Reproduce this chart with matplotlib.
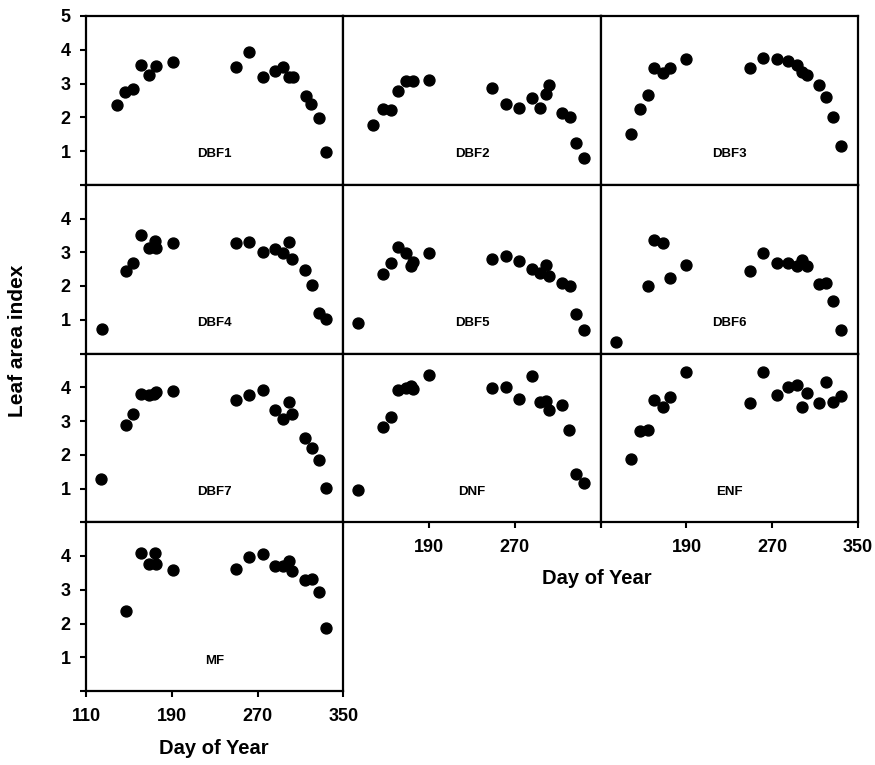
import matplotlib
matplotlib.use("Agg")
import matplotlib.pyplot as plt

plt.rcParams['font.family'] = ['Liberation Sans', 'DejaVu Sans']

# leaf area index by day of year, one list pair per forest type
dbf1_day = [139, 146, 154, 161, 169, 175, 191, 250, 262, 275, 286, 294, 299, 303, 315, 320, 327, 334]
dbf1_lai = [2.35, 2.76, 2.84, 3.54, 3.25, 3.53, 3.63, 3.50, 3.94, 3.19, 3.37, 3.49, 3.20, 3.20, 2.64, 2.38, 1.98, 0.96]

dbf2_day = [138, 147, 154, 161, 168, 175, 190, 249, 262, 274, 286, 293, 299, 302, 314, 321, 327, 334]
dbf2_lai = [1.76, 2.23, 2.21, 2.77, 3.06, 3.08, 3.09, 2.86, 2.38, 2.28, 2.56, 2.27, 2.69, 2.96, 2.12, 2.00, 1.24, 0.79]

dbf3_day = [138, 147, 154, 160, 168, 175, 190, 249, 261, 274, 285, 293, 298, 302, 314, 320, 327, 334]
dbf3_lai = [1.50, 2.23, 2.67, 3.45, 3.30, 3.47, 3.74, 3.47, 3.77, 3.72, 3.68, 3.56, 3.35, 3.25, 2.97, 2.60, 2.00, 1.14]

dbf4_day = [125, 147, 154, 161, 169, 174, 175, 191, 250, 262, 275, 286, 294, 299, 302, 314, 321, 327, 334]
dbf4_lai = [0.74, 2.43, 2.69, 3.51, 3.13, 3.32, 3.12, 3.26, 3.27, 3.30, 3.00, 3.10, 2.98, 3.29, 2.81, 2.48, 2.02, 1.20, 1.02]

dbf5_day = [124, 147, 154, 161, 168, 173, 175, 190, 249, 262, 274, 286, 293, 299, 302, 314, 321, 327, 334]
dbf5_lai = [0.89, 2.37, 2.68, 3.16, 2.98, 2.60, 2.71, 2.99, 2.80, 2.89, 2.74, 2.51, 2.39, 2.63, 2.29, 2.10, 2.00, 1.17, 0.70]

dbf6_day = [124, 154, 160, 168, 175, 190, 249, 261, 274, 285, 293, 298, 302, 314, 320, 327, 334]
dbf6_lai = [0.35, 1.99, 3.36, 3.27, 2.23, 2.61, 2.45, 2.99, 2.69, 2.67, 2.60, 2.76, 2.60, 2.06, 2.10, 1.55, 0.69]

dbf7_day = [124, 147, 154, 161, 169, 173, 175, 191, 250, 262, 275, 286, 294, 299, 302, 314, 321, 327, 334]
dbf7_lai = [1.28, 2.88, 3.21, 3.80, 3.77, 3.81, 3.87, 3.90, 3.63, 3.77, 3.91, 3.32, 3.05, 3.55, 3.22, 2.49, 2.21, 1.85, 1.02]

dnf_day = [124, 147, 154, 161, 168, 173, 175, 190, 249, 262, 274, 286, 293, 299, 302, 314, 320, 327, 334]
dnf_lai = [0.95, 2.82, 3.12, 3.91, 3.99, 4.03, 3.95, 4.36, 3.99, 4.01, 3.66, 4.32, 3.57, 3.59, 3.33, 3.47, 2.74, 1.42, 1.16]

enf_day = [138, 147, 154, 160, 168, 175, 190, 249, 261, 274, 285, 293, 298, 302, 314, 320, 327, 334]
enf_lai = [1.87, 2.69, 2.72, 3.62, 3.41, 3.70, 4.44, 3.54, 4.44, 3.77, 4.00, 4.07, 3.41, 3.84, 3.54, 4.16, 3.56, 3.75]

mf_day = [147, 161, 169, 174, 175, 191, 250, 262, 275, 286, 294, 299, 302, 314, 321, 327, 334]
mf_lai = [2.36, 4.08, 3.76, 4.08, 3.75, 3.58, 3.61, 3.98, 4.05, 3.71, 3.71, 3.84, 3.57, 3.28, 3.33, 2.92, 1.87]

panels = [
    ("DBF1", dbf1_day, dbf1_lai), ("DBF2", dbf2_day, dbf2_lai), ("DBF3", dbf3_day, dbf3_lai),
    ("DBF4", dbf4_day, dbf4_lai), ("DBF5", dbf5_day, dbf5_lai), ("DBF6", dbf6_day, dbf6_lai),
    ("DBF7", dbf7_day, dbf7_lai), ("DNF", dnf_day, dnf_lai), ("ENF", enf_day, enf_lai),
    ("MF", mf_day, mf_lai),
]

x_ticks = [110, 190, 270, 350]

fig = plt.figure(figsize=(8.75, 7.65), dpi=100)
gs = fig.add_gridspec(4, 3, left=86/875, right=858/875, top=1-16/765, bottom=1-691/765,
                      wspace=0, hspace=0)

for i, (name, day, lai) in enumerate(panels):
    row, col = divmod(i, 3)
    ax = fig.add_subplot(gs[row, col])
    ax.scatter(day, lai, s=62, color='black', zorder=3, clip_on=False)
    ax.set_xlim(110, 350)
    ax.set_ylim(0, 5)
    ax.text(230, 0.9, name, ha='center', va='center', fontsize=9.5, fontweight='bold')
    for sp in ax.spines.values():
        sp.set_linewidth(1.6)

    # y ticks only on the first column
    if col == 0:
        ax.set_yticks([0, 1, 2, 3, 4, 5])
        if row == 0:
            ax.set_yticklabels(['', '1', '2', '3', '4', '5'])
        else:
            ax.set_yticklabels(['', '1', '2', '3', '4', ''])
        ax.tick_params(axis='y', direction='out', length=4, width=1.5, pad=7,
                       labelsize=13)
    else:
        ax.set_yticks([])

    # x ticks on the bottom edge of each column
    bottom = (row == 3) or (row == 2 and col > 0)
    if bottom:
        ax.set_xticks(x_ticks)
        if row == 3:
            labels = ['110', '190', '270', '350']
        elif col == 1:
            labels = ['', '190', '270', '']
        else:
            labels = ['', '190', '270', '350']
        ax.set_xticklabels(labels)
        ax.tick_params(axis='x', direction='out', length=4, width=1.5, pad=8,
                       labelsize=13)
    else:
        ax.set_xticks([])

    for lab in ax.get_xticklabels() + ax.get_yticklabels():
        lab.set_fontweight('bold')

fig.text(18/875, 1-341/765, 'Leaf area index', rotation=90, ha='center', va='center',
         fontsize=15, fontweight='bold')
fig.text(597/875, 1-578/765, 'Day of Year', ha='center', va='center',
         fontsize=14.5, fontweight='bold')
fig.text(214/875, 1-748/765, 'Day of Year', ha='center', va='center',
         fontsize=14.5, fontweight='bold')

fig.savefig('out.png', dpi=100)
